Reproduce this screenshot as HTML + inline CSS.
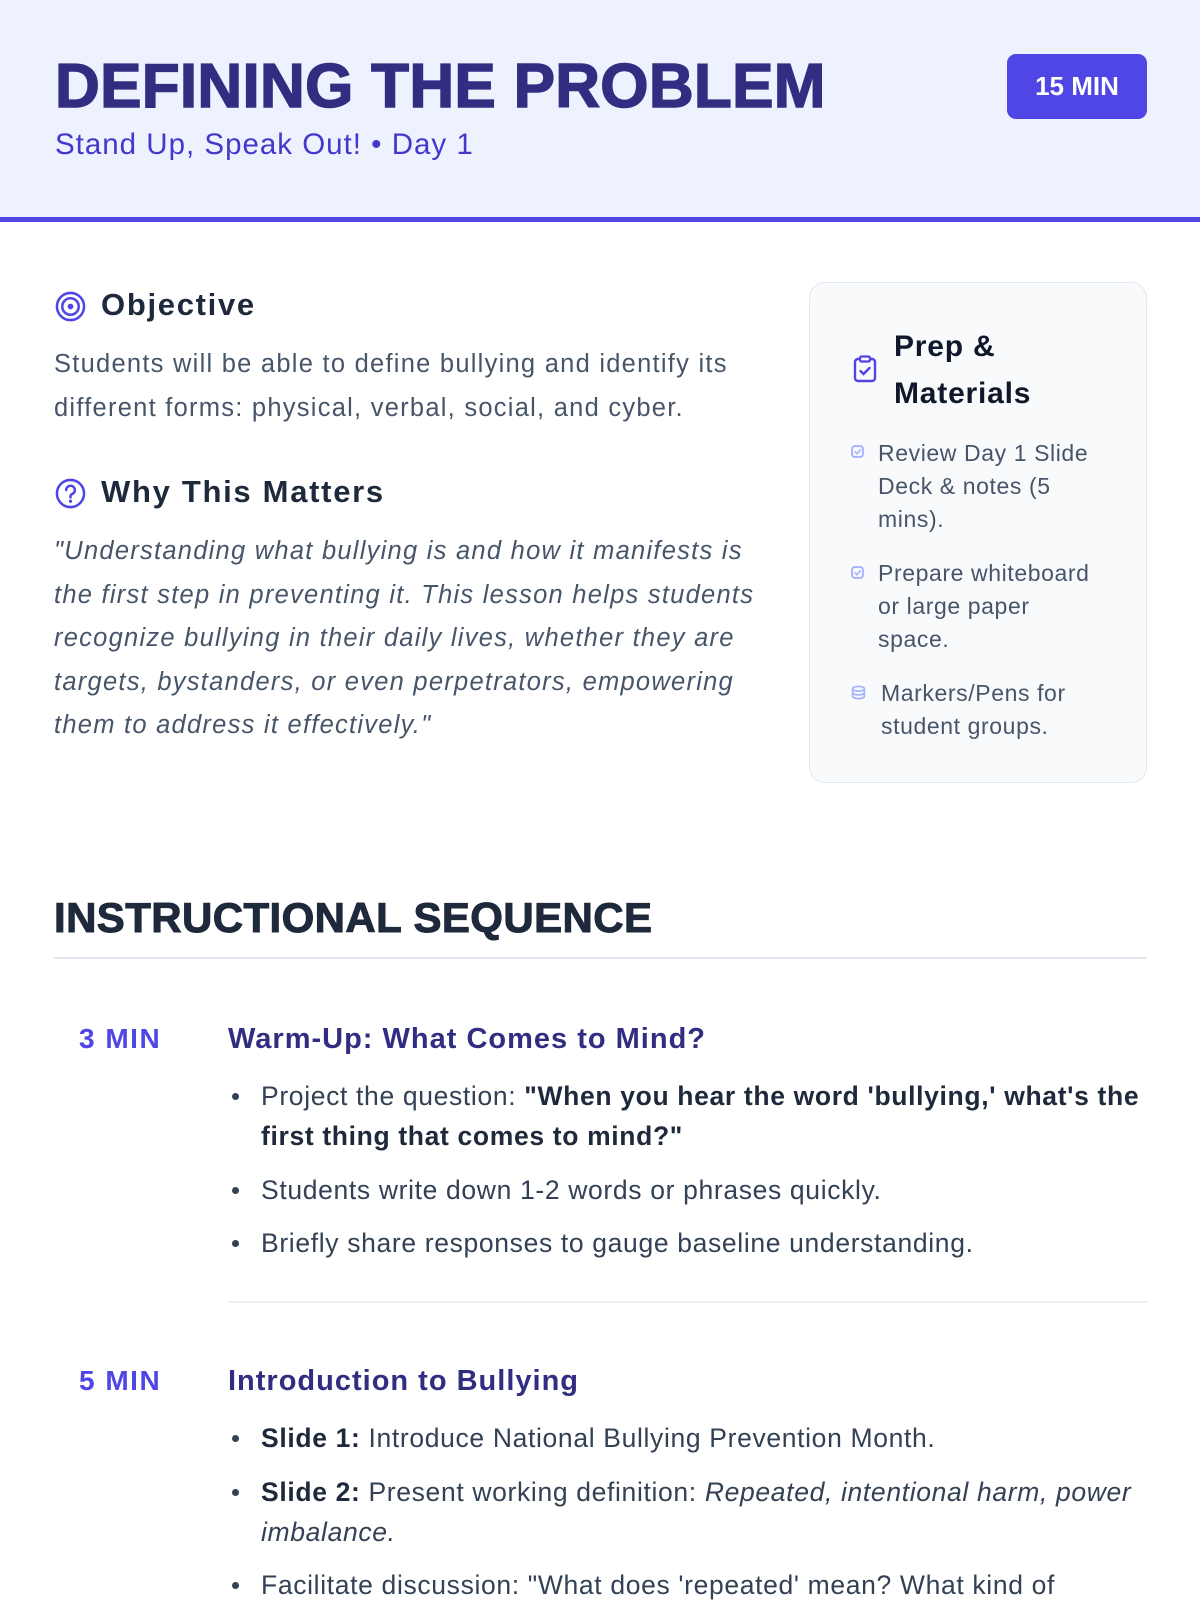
<!DOCTYPE html>
<html><head><meta charset="utf-8"><style>
*{margin:0;padding:0;box-sizing:border-box}
body{width:1200px;height:1600px;overflow:hidden;background:#fff;font-family:"Liberation Sans",sans-serif;position:relative;color:#334155}
.a{position:absolute;white-space:nowrap}
#hdr{position:absolute;left:0;top:0;width:1200px;height:222px;background:#eef2ff;border-bottom:5px solid #4f46e5}
h1{position:absolute;left:55px;top:52px;font-size:62px;font-weight:900;color:#312e81;letter-spacing:0.3px;line-height:70px;white-space:nowrap;-webkit-text-stroke:1.5px #312e81}
.sub{left:55px;top:128px;font-size:29.5px;color:#4338ca;letter-spacing:1px}
.badge{position:absolute;left:1007px;top:54px;width:140px;height:65px;background:#4f46e5;border-radius:9px;color:#fff;font-weight:bold;font-size:26px;display:flex;align-items:center;justify-content:center}
.h2{font-size:31px;font-weight:bold;color:#1e293b;letter-spacing:1.7px}
.p{font-size:25.5px;line-height:43.5px;color:#475569;letter-spacing:1.25px}
.card{position:absolute;left:809px;top:282px;width:338px;height:501px;background:#f8fafc;border:1.5px solid #e2e8f0;border-radius:16px}
.ci{font-size:23px;line-height:33px;color:#475569;letter-spacing:0.6px}
.seq{left:54px;top:894px;font-size:42px;font-weight:900;color:#1e293b;-webkit-text-stroke:1px #1e293b;letter-spacing:0.4px}
.rule{position:absolute;left:54px;top:957px;width:1093px;height:2px;background:#e2e8f0}
.min{font-size:28px;font-weight:bold;color:#4f46e5;letter-spacing:1.5px}
.tt{font-size:29px;font-weight:bold;color:#312e81;letter-spacing:1px}
.b{font-size:26.5px;line-height:40px;color:#334155;letter-spacing:0.65px}
.b b{color:#1e293b}
.dot{position:absolute;width:7px;height:7px;border-radius:50%;background:#334155}
</style></head><body>
<div id="hdr"></div>
<h1>DEFINING THE PROBLEM</h1>
<div class="a sub">Stand Up, Speak Out! • Day 1</div>
<div class="badge">15 MIN</div>

<svg class="a" style="left:55px;top:291px" width="31" height="31" viewBox="0 0 32 32"><circle cx="16" cy="16" r="14" fill="none" stroke="#4f46e5" stroke-width="2.6"/><circle cx="16" cy="16" r="8.5" fill="none" stroke="#4f46e5" stroke-width="2.6"/><circle cx="16" cy="16" r="3" fill="#4f46e5"/></svg>
<div class="a h2" style="left:101px;top:287px">Objective</div>
<div class="a p" style="left:54px;top:343px">Students will be able to define bullying and identify its<br>different forms: physical, verbal, social, and cyber.</div>

<svg class="a" style="left:55px;top:478px" width="31" height="31" viewBox="0 0 32 32"><circle cx="16" cy="16" r="14" fill="none" stroke="#4f46e5" stroke-width="2.6"/><path d="M11.5 12.5a4.5 4.5 0 1 1 6 4.2c-1 .5-1.5 1.2-1.5 2.3v1" fill="none" stroke="#4f46e5" stroke-width="2.6" stroke-linecap="round"/><circle cx="16" cy="24" r="1.7" fill="#4f46e5"/></svg>
<div class="a h2" style="left:101px;top:474px">Why This Matters</div>
<div class="a p" style="left:54px;top:530px;font-style:italic">"Understanding what bullying is and how it manifests is<br>the first step in preventing it. This lesson helps students<br>recognize bullying in their daily lives, whether they are<br>targets, bystanders, or even perpetrators, empowering<br>them to address it effectively."</div>

<div class="card"></div>
<svg class="a" style="left:853px;top:355px" width="24" height="28" viewBox="0 0 24 28"><rect x="2" y="4" width="20" height="22" rx="3" fill="none" stroke="#4f46e5" stroke-width="2.4"/><rect x="7" y="1.5" width="10" height="5" rx="1.5" fill="#f8fafc" stroke="#4f46e5" stroke-width="2.2"/><path d="M7.5 16l3 3 6-6" fill="none" stroke="#4f46e5" stroke-width="2.4" stroke-linecap="round"/></svg>
<div class="a" style="left:894px;top:323px;font-size:30px;font-weight:bold;line-height:47px;color:#0f172a;letter-spacing:0.8px">Prep &amp;<br>Materials</div>
<svg class="a" style="left:851px;top:445px" width="13" height="13" viewBox="0 0 12 12"><rect x="1" y="1" width="10" height="10" rx="2.5" fill="none" stroke="#a5b4fc" stroke-width="1.8"/><path d="M3.5 6l2 2 3.5-4" fill="none" stroke="#a5b4fc" stroke-width="1.6"/></svg>
<div class="a ci" style="left:878px;top:437px">Review Day 1 Slide<br>Deck &amp; notes (5<br>mins).</div>
<svg class="a" style="left:851px;top:566px" width="13" height="13" viewBox="0 0 12 12"><rect x="1" y="1" width="10" height="10" rx="2.5" fill="none" stroke="#a5b4fc" stroke-width="1.8"/><path d="M3.5 6l2 2 3.5-4" fill="none" stroke="#a5b4fc" stroke-width="1.6"/></svg>
<div class="a ci" style="left:878px;top:557px">Prepare whiteboard<br>or large paper<br>space.</div>
<svg class="a" style="left:851px;top:685px" width="15" height="15" viewBox="0 0 14 14"><ellipse cx="7" cy="3.5" rx="5.5" ry="2.2" fill="none" stroke="#a5b4fc" stroke-width="1.6"/><path d="M1.5 7c0 1.2 2.5 2.2 5.5 2.2s5.5-1 5.5-2.2M1.5 10.5c0 1.2 2.5 2.2 5.5 2.2s5.5-1 5.5-2.2M1.5 3.5v7M12.5 3.5v7" fill="none" stroke="#a5b4fc" stroke-width="1.6"/></svg>
<div class="a ci" style="left:881px;top:677px">Markers/Pens for<br>student groups.</div>

<div class="a seq">INSTRUCTIONAL SEQUENCE</div>
<div class="rule"></div>

<div class="a min" style="left:79px;top:1023px">3 MIN</div>
<div class="a tt" style="left:228px;top:1023px">Warm-Up: What Comes to Mind?</div>
<div class="dot" style="left:232px;top:1093px"></div>
<div class="a b" style="left:261px;top:1076px">Project the question: <b>"When you hear the word 'bullying,' what's the<br>first thing that comes to mind?"</b></div>
<div class="dot" style="left:232px;top:1187px"></div>
<div class="a b" style="left:261px;top:1170px">Students write down 1-2 words or phrases quickly.</div>
<div class="dot" style="left:232px;top:1240px"></div>
<div class="a b" style="left:261px;top:1223px">Briefly share responses to gauge baseline understanding.</div>
<div style="position:absolute;left:228px;top:1301px;width:919px;height:1.5px;background:#eef0f4"></div>

<div class="a min" style="left:79px;top:1365px">5 MIN</div>
<div class="a tt" style="left:228px;top:1365px">Introduction to Bullying</div>
<div class="dot" style="left:232px;top:1435px"></div>
<div class="a b" style="left:261px;top:1418px"><b>Slide 1:</b> Introduce National Bullying Prevention Month.</div>
<div class="dot" style="left:232px;top:1489px"></div>
<div class="a b" style="left:261px;top:1472px"><b>Slide 2:</b> Present working definition: <i>Repeated, intentional harm, power<br>imbalance.</i></div>
<div class="dot" style="left:232px;top:1582px"></div>
<div class="a b" style="left:261px;top:1565px">Facilitate discussion: "What does 'repeated' mean? What kind of</div>
</body></html>
